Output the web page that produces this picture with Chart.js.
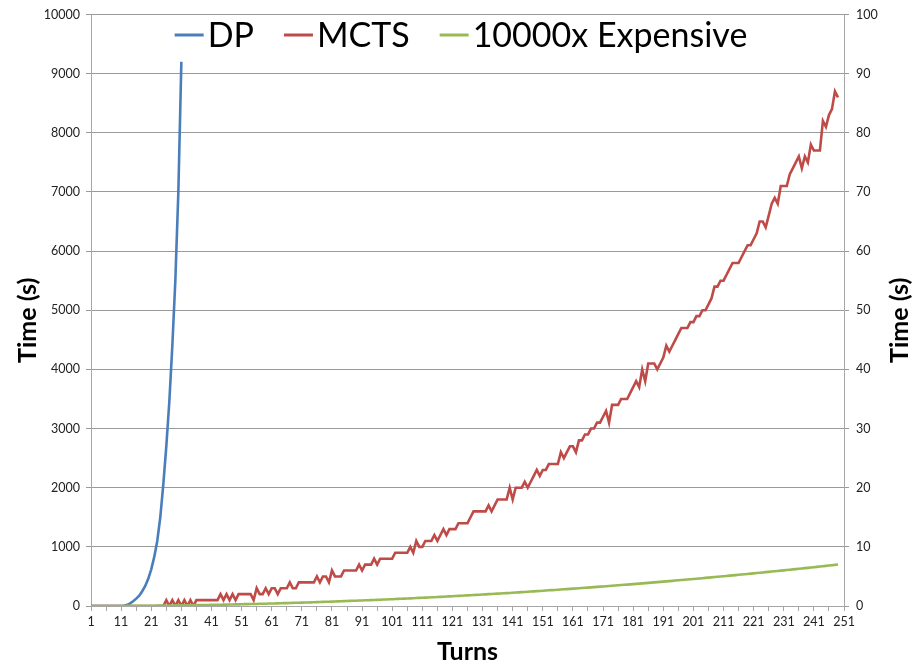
<!DOCTYPE html>
<html>
<head>
<meta charset="utf-8">
<title>DP vs MCTS time per turn</title>
<script src="https://cdn.jsdelivr.net/npm/chart.js@4"></script>
<style>
  html, body { margin: 0; padding: 0; background: #fff; }
  #wrap { width: 916px; height: 668px; position: relative; }
</style>
</head>
<body>
<div id="wrap"><canvas id="timeChart"></canvas></div>
<script>
// ---- data ----
const turns = Array.from({ length: 251 }, (_, i) => i + 1);   // x categories 1..251

// DP time (left axis, s), turns 1..31
const dpTimes = [
  0, 0, 0, 0, 0, 0, 0, 0, 0, 0,
  0, 5, 20, 45, 80, 125, 175, 250, 340, 460,
  620, 830, 1100, 1500, 2050, 2700, 3450, 4400, 5500, 7000,
  9200
];

// MCTS time (right axis, s), turns 1..249
const mctsTimes = [
  0, 0, 0, 0, 0, 0, 0, 0, 0, 0,
  0, 0, 0, 0, 0, 0, 0, 0, 0, 0,
  0, 0, 0, 0, 0, 1, 0, 1, 0, 1,
  0, 1, 0, 1, 0, 1, 1, 1, 1, 1,
  1, 1, 1, 2, 1, 2, 1, 2, 1, 2,
  2, 2, 2, 2, 1, 3, 2, 2, 3, 2,
  3, 3, 2, 3, 3, 3, 4, 3, 3, 4,
  4, 4, 4, 4, 4, 5, 4, 5, 5, 4,
  6, 5, 5, 5, 6, 6, 6, 6, 6, 7,
  6, 7, 7, 7, 8, 7, 8, 8, 8, 8,
  8, 9, 9, 9, 9, 9, 10, 9, 11, 10,
  10, 11, 11, 11, 12, 11, 12, 13, 12, 13,
  13, 13, 14, 14, 14, 14, 15, 16, 16, 16,
  16, 16, 17, 16, 17, 18, 18, 18, 18, 20,
  18, 20, 20, 20, 21, 20, 21, 22, 23, 22,
  23, 23, 24, 24, 24, 24, 26, 25, 26, 27,
  27, 26, 28, 28, 29, 29, 30, 30, 31, 31,
  32, 33, 31, 34, 34, 34, 35, 35, 35, 36,
  37, 38, 37, 40, 38, 41, 41, 41, 40, 41,
  42, 44, 43, 44, 45, 46, 47, 47, 47, 48,
  48, 49, 49, 50, 50, 51, 52, 54, 54, 55,
  55, 56, 57, 58, 58, 58, 59, 60, 61, 61,
  62, 63, 65, 65, 64, 66, 68, 69, 68, 71,
  71, 71, 73, 74, 75, 76, 74, 76, 75, 78,
  77, 77, 77, 82, 81, 83, 84, 87, 86
];

// "10000x Expensive" time (left axis, s), turns 1..249
const expensiveTimes = [
  0, 0, 0, 0, 0, 0, 1, 1, 1, 1,
  1, 2, 2, 2, 3, 3, 3, 4, 4, 5,
  5, 5, 6, 7, 7, 8, 8, 9, 10, 10,
  11, 12, 12, 13, 14, 15, 15, 16, 17, 18,
  19, 20, 21, 22, 23, 24, 25, 26, 27, 28,
  29, 31, 32, 33, 34, 35, 37, 38, 39, 41,
  42, 43, 45, 46, 48, 49, 51, 52, 54, 55,
  57, 59, 60, 62, 64, 65, 67, 69, 71, 72,
  74, 76, 78, 80, 82, 84, 86, 88, 90, 92,
  94, 96, 98, 100, 102, 104, 106, 109, 111, 113,
  115, 118, 120, 122, 125, 127, 129, 132, 134, 137,
  139, 142, 144, 147, 149, 152, 155, 157, 160, 163,
  165, 168, 171, 174, 177, 179, 182, 185, 188, 191,
  194, 197, 200, 203, 206, 209, 212, 215, 218, 221,
  225, 228, 231, 234, 238, 241, 244, 248, 251, 254,
  258, 261, 265, 268, 271, 275, 279, 282, 286, 289,
  293, 297, 300, 304, 308, 311, 315, 319, 323, 327,
  330, 334, 338, 342, 346, 350, 354, 358, 362, 366,
  370, 374, 378, 383, 387, 391, 395, 399, 404, 408,
  412, 417, 421, 425, 430, 434, 439, 443, 447, 452,
  457, 461, 466, 470, 475, 480, 484, 489, 494, 498,
  503, 508, 513, 517, 522, 527, 532, 537, 542, 547,
  552, 557, 562, 567, 572, 577, 582, 587, 593, 598,
  603, 608, 613, 619, 624, 629, 635, 640, 645, 651,
  656, 662, 667, 673, 678, 684, 689, 695, 701
];

const seriesNames = ["DP", "MCTS", "10000x Expensive"];
const seriesColors = ["#4a7ebb", "#be4b48", "#98b954"];

const FONT = "Lato";
const AXIS_GREY = "#a6a6a6";
const GRID_GREY = "#9a9a9a";

// legend drawn inside the plot, Excel style
const insideLegend = {
  id: "insideLegend",
  afterDraw(chart) {
    const ctx = chart.ctx;
    const lineW = 29, gap = 4, itemGap = 30, y = 35;
    ctx.save();
    ctx.font = "34px " + FONT;
    const sets = chart.data.datasets;
    let total = 0;
    sets.forEach((ds, i) => {
      total += lineW + gap + ctx.measureText(ds.label).width;
      if (i < sets.length - 1) total += itemGap;
    });
    let x = 461 - total / 2;
    ctx.textBaseline = "middle";
    sets.forEach(ds => {
      ctx.strokeStyle = ds.borderColor;
      ctx.lineWidth = 3;
      ctx.beginPath();
      ctx.moveTo(x, y);
      ctx.lineTo(x + lineW, y);
      ctx.stroke();
      x += lineW + gap;
      ctx.fillStyle = "#000";
      ctx.fillText(ds.label, x, y + 1);
      x += ctx.measureText(ds.label).width + itemGap;
    });
    ctx.restore();
  }
};

// axis titles
const axisTitles = {
  id: "axisTitles",
  afterDraw(chart) {
    const ctx = chart.ctx;
    const a = chart.chartArea;
    const midY = (a.top + a.bottom) / 2 + 10;
    ctx.save();
    ctx.font = "bold 25px " + FONT;
    ctx.fillStyle = "#000";
    ctx.textAlign = "center";
    ctx.textBaseline = "middle";
    [28, 900].forEach(cx => {
      ctx.save();
      ctx.translate(cx, midY);
      ctx.rotate(-Math.PI / 2);
      ctx.fillText("Time (s)", 0, 0);
      ctx.restore();
    });
    ctx.fillText("Turns", (a.left + a.right) / 2, 652);
    ctx.restore();
  }
};

Chart.defaults.font.family = FONT;
Chart.defaults.color = "#222";

new Chart(document.getElementById("timeChart"), {
  type: "line",
  data: {
    labels: turns,
    datasets: [
      { label: seriesNames[0], data: dpTimes, yAxisID: "y", borderColor: seriesColors[0], order: 3 },
      { label: seriesNames[1], data: mctsTimes, yAxisID: "y1", borderColor: seriesColors[1], order: 2 },
      { label: seriesNames[2], data: expensiveTimes, yAxisID: "y", borderColor: seriesColors[2], order: 1 }
    ]
  },
  options: {
    responsive: true,
    maintainAspectRatio: false,
    animation: false,
    layout: { padding: { top: 13, left: 0, right: 0, bottom: 0 } },
    elements: {
      point: { radius: 0 },
      line: { borderWidth: 2.6, tension: 0, fill: false }
    },
    plugins: {
      legend: { display: false },
      tooltip: { enabled: false }
    },
    scales: {
      x: {
        type: "category",
        offset: false,
        grid: {
          drawOnChartArea: false,
          drawTicks: true,
          tickLength: 5,
          color: c => (c.index % 5 === 0 ? AXIS_GREY : "rgba(0,0,0,0)")
        },
        border: { display: true, color: AXIS_GREY },
        ticks: {
          autoSkip: false,
          maxRotation: 0,
          minRotation: 0,
          padding: 3,
          font: { size: 12.5 },
          callback: (v, i) => (i % 10 === 0 ? String(turns[i]) : "")
        },
        afterFit(s) { s.height = 62; }
      },
      y: {
        position: "left",
        min: 0,
        max: 10000,
        ticks: { stepSize: 1000, padding: 6, font: { size: 12.5 }, callback: v => String(v) },
        grid: { color: GRID_GREY, tickLength: 5 },
        border: { display: true, color: AXIS_GREY },
        afterFit(s) { s.width = 91; }
      },
      y1: {
        position: "right",
        min: 0,
        max: 100,
        ticks: { stepSize: 10, padding: 7, font: { size: 12.5 }, callback: v => String(v) },
        grid: { drawOnChartArea: false, color: GRID_GREY, tickLength: 5 },
        border: { display: true, color: AXIS_GREY },
        afterFit(s) { s.width = 72; }
      }
    }
  },
  plugins: [insideLegend, axisTitles]
});
</script>
</body>
</html>
